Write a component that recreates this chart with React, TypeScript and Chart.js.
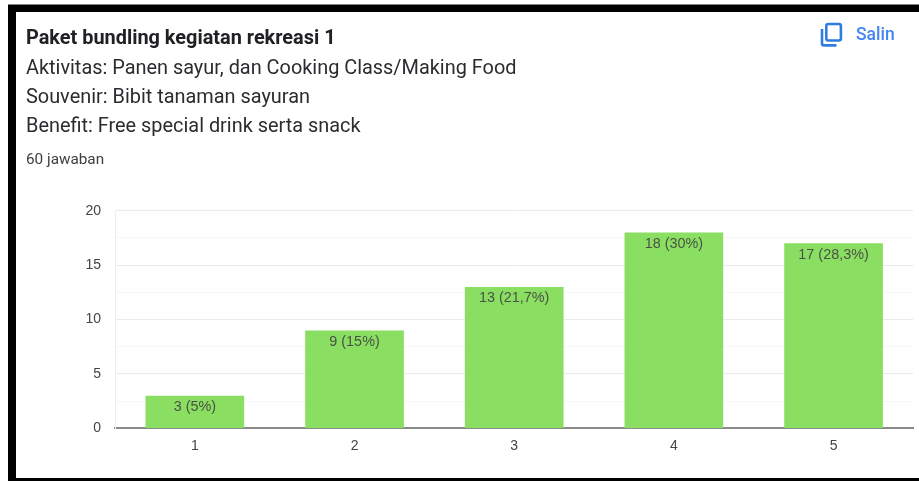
import React, { useEffect, useRef } from "react";
import { Chart, registerables, Plugin } from "chart.js";

Chart.register(...registerables);

const categories = ["1", "2", "3", "4", "5"];
const responses = [3, 9, 13, 18, 17];
const shareLabels = ["5%", "15%", "21,7%", "30%", "28,3%"];
const questionTitle = "Paket bundling kegiatan rekreasi 1";
const questionLines = [
  "Aktivitas: Panen sayur, dan Cooking Class/Making Food",
  "Souvenir: Bibit tanaman sayuran",
  "Benefit: Free special drink serta snack",
];
const answerCount = "60 jawaban";
const copyLabel = "Salin";

// Writes "count (share)" just inside the top edge of each bar.
const barCaptions: Plugin<"bar"> = {
  id: "barCaptions",
  afterDatasetsDraw(chart) {
    const { ctx } = chart;
    const bars = chart.getDatasetMeta(0).data;
    ctx.save();
    ctx.font = '14.4px "Liberation Sans", Arial, sans-serif';
    ctx.fillStyle = "#4a5345";
    ctx.textAlign = "center";
    ctx.textBaseline = "top";
    bars.forEach((bar, i) => {
      ctx.fillText(`${responses[i]} (${shareLabels[i]})`, bar.x, bar.y + 4);
    });
    ctx.restore();
  },
};

const textBase: React.CSSProperties = {
  position: "absolute",
  left: 26,
  fontFamily: "Roboto, sans-serif",
  color: "#202124",
  whiteSpace: "nowrap",
  lineHeight: "24px",
};

export default function App() {
  const canvasRef = useRef<HTMLCanvasElement>(null);

  useEffect(() => {
    document.body.style.margin = "0";
    const chart = new Chart(canvasRef.current!, {
      type: "bar",
      data: {
        labels: categories,
        datasets: [
          {
            data: responses,
            backgroundColor: "#8ade62",
            borderWidth: 0,
            barPercentage: 0.618,
            categoryPercentage: 1,
          },
        ],
      },
      plugins: [barCaptions],
      options: {
        animation: false,
        responsive: false,
        layout: { padding: { top: 210.7, right: 5.6, left: 0, bottom: 0 } },
        plugins: { legend: { display: false }, tooltip: { enabled: false } },
        scales: {
          x: {
            afterFit(axis) {
              axis.height = 52.6;
            },
            grid: { display: false, drawTicks: false },
            border: { color: "#8a8a8a", width: 2 },
            ticks: {
              color: "#444444",
              padding: 9,
              font: { family: '"Liberation Sans", Arial, sans-serif', size: 14 },
            },
          },
          y: {
            min: 0,
            max: 20,
            afterFit(axis) {
              axis.width = 115;
            },
            border: { color: "#efefef", width: 1 },
            grid: {
              drawTicks: false,
              color: (c) => (Number(c.tick.value) % 5 === 0 ? "#ebebeb" : "#f6f6f6"),
            },
            ticks: {
              stepSize: 2.5,
              autoSkip: false,
              padding: 14,
              color: "#444444",
              font: { family: '"Liberation Sans", Arial, sans-serif', size: 14 },
              callback: (v) => (Number(v) % 5 === 0 ? String(v) : ""),
            },
          },
        },
      },
    });
    return () => chart.destroy();
  }, []);

  return (
    <div style={{ position: "relative", width: 919, height: 481, background: "#fff", overflow: "hidden" }}>
      {/* Window frame */}
      <div style={{ position: "absolute", left: 8, top: 4, right: 0, height: 1, background: "#808080" }} />
      <div style={{ position: "absolute", left: 8, top: 5, right: 0, bottom: 0, borderTop: "7px solid #000", borderLeft: "8px solid #000", borderBottom: "3px solid #000" }} />
      <canvas ref={canvasRef} width={919} height={481} style={{ position: "absolute", left: 0, top: 0, display: "block" }} />
      <div style={{ ...textBase, top: 26, fontSize: 19.9, fontWeight: 700 }}>{questionTitle}</div>
      {questionLines.map((line, i) => (
        <div key={line} style={{ ...textBase, top: 56 + i * 29, fontSize: 19.9, color: "#2b2c2f" }}>{line}</div>
      ))}
      <div style={{ ...textBase, top: 147, fontSize: 15.3, color: "#3c4043" }}>{answerCount}</div>
      {/* Copy action */}
      <svg width="919" height="60" style={{ position: "absolute", left: 0, top: 0 }}>
        <g fill="none" stroke="#2f7de1" strokeWidth="2.6">
          <rect x="826.3" y="24" width="14.6" height="16.5" rx="2" />
          <path d="M822 29 V43.4 a2 2 0 0 0 2 2 H836.5" />
        </g>
      </svg>
      <div style={{ ...textBase, left: 856, top: 22, fontSize: 17.5, fontWeight: 500, color: "#4285f4" }}>{copyLabel}</div>
    </div>
  );
}
